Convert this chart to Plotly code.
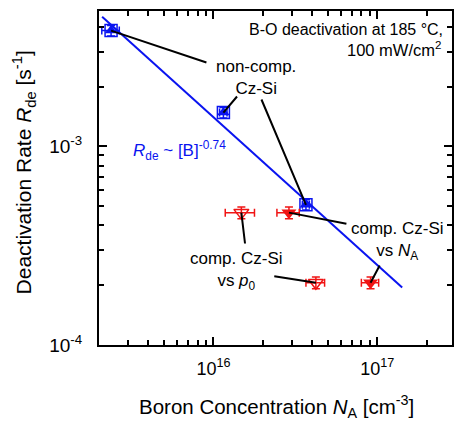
import numpy as np
import plotly.graph_objects as go

# ---------------- data ----------------
noncomp_NA = [2.37e15, 1.15e16, 3.67e16]
noncomp_Rde = [3.83e-3, 1.48e-3, 5.08e-4]
noncomp_NA_err = [2.9e14, 6.0e14, 1.8e15]
noncomp_Rde_err = [2.3e-4, 9.0e-5, 3.0e-5]

comp_p0_NA = [1.48e16, 4.22e16]
comp_p0_Rde = [4.64e-4, 2.06e-4]
comp_p0_NA_err = [3.0e15, 5.5e15]
comp_p0_Rde_err = [3.2e-5, 1.4e-5]

comp_NA_NA = [2.89e16, 9.1e16]
comp_NA_Rde = [4.64e-4, 2.06e-4]
comp_NA_NA_err = [4.5e15, 1.1e16]
comp_NA_Rde_err = [3.2e-5, 1.4e-5]

fit_NA = [2.09e15, 1.42e17]
fit_Rde = [4.49e-3, 1.95e-4]

x_ticks = [1e16, 1e17]
x_tick_labels = ['10<sup>16</sup>', '10<sup>17</sup>']
x_minor = [3e15, 4e15, 5e15, 6e15, 7e15, 8e15, 9e15,
           2e16, 3e16, 4e16, 5e16, 6e16, 7e16, 8e16, 9e16, 2e17]
y_ticks = [1e-4, 1e-3]
y_tick_labels = ['10<sup>-4</sup>', '10<sup>-3</sup>']
y_minor = [2e-4, 3e-4, 4e-4, 5e-4, 6e-4, 7e-4, 8e-4, 9e-4, 2e-3, 3e-3, 4e-3]

# ---------------- layout geometry ----------------
W, H = 454, 424
L, R, T, B = 99, 0, 11, 79
PW, PH = W - L - R, H - T - B
XR = [np.log10(2e15), np.log10(2e15) + PW / 164.7]
YR = [-4.0, -4.0 + PH / 198.6]

FONT = "Liberation Sans, Arial, sans-serif"
BLUE = "#0a14f0"
RED = "#f01414"


def paper(xpx, ypx):
    return (xpx - L) / PW, (H - B - ypx) / PH


def data_px(xv, yv):
    xp = L + (np.log10(xv) - XR[0]) / (XR[1] - XR[0]) * PW
    yp = (H - B) - (np.log10(yv) - YR[0]) / (YR[1] - YR[0]) * PH
    return xp, yp


fig = go.Figure()

fig.add_trace(go.Scatter(
    x=fit_NA, y=fit_Rde, mode='lines',
    line=dict(color=BLUE, width=2), showlegend=False, hoverinfo='skip'))

fig.add_trace(go.Scatter(
    x=noncomp_NA, y=noncomp_Rde, mode='markers',
    marker=dict(symbol='triangle-up', size=11, color=BLUE),
    error_x=dict(type='data', array=noncomp_NA_err, color=BLUE, thickness=1.5, width=4),
    error_y=dict(type='data', array=noncomp_Rde_err, color=BLUE, thickness=1.5, width=4),
    showlegend=False))
fig.add_trace(go.Scatter(
    x=noncomp_NA, y=noncomp_Rde, mode='markers',
    marker=dict(symbol='square-open', size=12, color=BLUE, line=dict(width=1.5, color=BLUE)),
    showlegend=False))

fig.add_trace(go.Scatter(
    x=comp_p0_NA, y=comp_p0_Rde, mode='markers',
    marker=dict(symbol='triangle-down-open', size=13, color=RED, line=dict(width=1.5, color=RED)),
    error_x=dict(type='data', array=comp_p0_NA_err, color=RED, thickness=1.5, width=4),
    error_y=dict(type='data', array=comp_p0_Rde_err, color=RED, thickness=1.5, width=4),
    showlegend=False))
fig.add_trace(go.Scatter(
    x=comp_NA_NA, y=comp_NA_Rde, mode='markers',
    marker=dict(symbol='triangle-down', size=13, color=RED),
    error_x=dict(type='data', array=comp_NA_NA_err, color=RED, thickness=1.5, width=4),
    error_y=dict(type='data', array=comp_NA_Rde_err, color=RED, thickness=1.5, width=4),
    showlegend=False))

annotations = []

# leader lines: (data point, tail pixel)
leaders = [
    (noncomp_NA[0], noncomp_Rde[0], 208, 63),
    (noncomp_NA[1], noncomp_Rde[1], 239, 95),
    (noncomp_NA[2], noncomp_Rde[2], 262, 98),
    (comp_NA_NA[0], comp_NA_Rde[0], 349, 224),
    (comp_NA_NA[1], comp_NA_Rde[1], 382, 264),
    (comp_p0_NA[0], comp_p0_Rde[0], 246, 245),
    (comp_p0_NA[1], comp_p0_Rde[1], 274, 276),
]
for xv, yv, tx, ty in leaders:
    hx, hy = data_px(xv, yv)
    annotations.append(dict(
        x=np.log10(xv), y=np.log10(yv), xref='x', yref='y', text='',
        showarrow=True, arrowhead=0, arrowwidth=2, arrowcolor='black',
        ax=tx - hx, ay=ty - hy, axref='pixel', ayref='pixel', standoff=0, startstandoff=0))


def txt(text, xpx, ypx, xanchor='center', yanchor='middle', color='black', size=17, angle=0, align='center'):
    px_, py_ = paper(xpx, ypx)
    annotations.append(dict(
        x=px_, y=py_, xref='paper', yref='paper', text=text, showarrow=False,
        xanchor=xanchor, yanchor=yanchor, align=align, textangle=angle,
        font=dict(family=FONT, size=size, color=color)))


txt('B-O deactivation at 185 °C,', 447, 30, xanchor='right', size=16)
txt('100 mW/cm<sup>2</sup>', 445, 49, xanchor='right', size=16.5)
txt('non-comp.<br>Cz-Si', 257, 78, size=17)
txt('comp. Cz-Si<br>vs <i>N</i><sub>A</sub>', 399, 241, size=17)
txt('comp. Cz-Si<br>vs <i>p</i><sub>0</sub>', 237, 271, size=17)
txt('<i>R</i><sub>de</sub> ~ [B]<sup>-0.74</sup>', 131, 150, xanchor='left', color=BLUE, size=17)

# axis titles
txt('Boron Concentration <i>N</i><sub>A</sub> [cm<sup>-3</sup>]', 278, 406, size=20.5)
txt('Deactivation Rate <i>R</i><sub>de</sub> [s<sup>-1</sup>]', 23, 172, size=21, angle=-90)

axis_common = dict(
    type='log', showgrid=False, zeroline=False,
    ticks='inside', ticklen=8, tickwidth=1.5, tickcolor='black',
    showline=True, linewidth=2, linecolor='black', mirror='ticks',
)

fig.update_layout(
    width=W, height=H,
    margin=dict(l=L, r=R, t=T, b=B, pad=0),
    paper_bgcolor='white', plot_bgcolor='white',
    font=dict(family=FONT, color='black'),
    xaxis=dict(
        **axis_common, range=XR,
        tickfont=dict(family=FONT, size=18, color='black'),
        tickvals=x_ticks, ticktext=x_tick_labels, ticklabelstandoff=6,
        minor=dict(tickvals=x_minor, ticks='inside', ticklen=5, tickwidth=1.5, tickcolor='black'),
    ),
    yaxis=dict(
        **axis_common, range=YR,
        tickfont=dict(family=FONT, size=19, color='black'),
        tickvals=y_ticks, ticktext=y_tick_labels, ticklabelstandoff=11,
        minor=dict(tickvals=y_minor, ticks='inside', ticklen=5, tickwidth=1.5, tickcolor='black'),
    ),
    annotations=annotations,
    showlegend=False,
)

fig.write_html("out.html")
